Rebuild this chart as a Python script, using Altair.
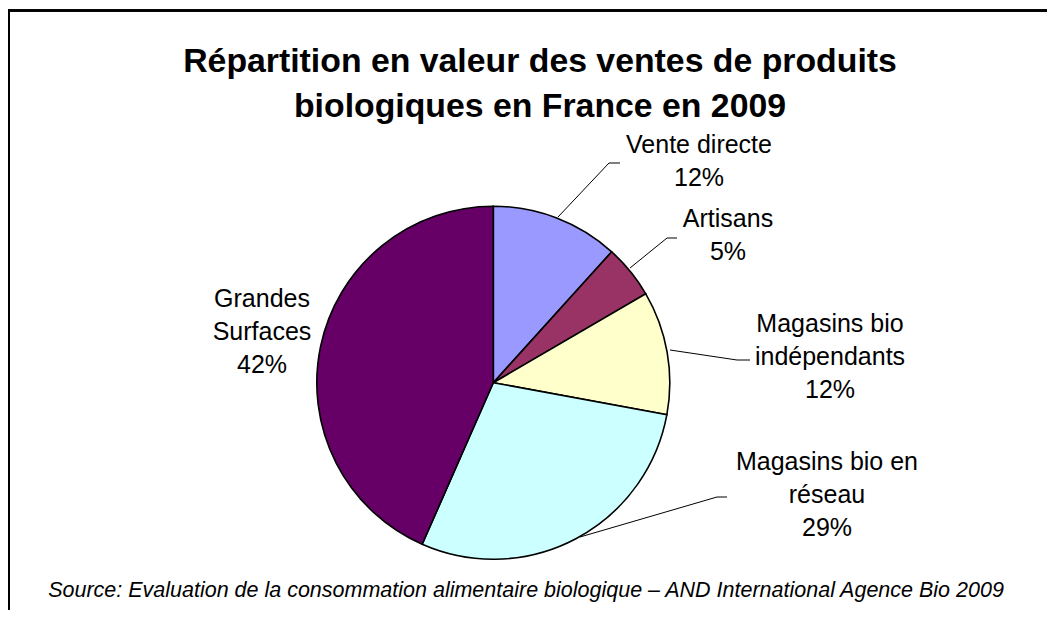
import altair as alt
import pandas as pd

# ---- data ----
categories = ["Vente directe", "Artisans", "Magasins bio indépendants",
              "Magasins bio en réseau", "Grandes Surfaces"]
values = [11.7, 4.9, 11.3, 28.7, 43.4]
pct_labels = ["12%", "5%", "12%", "29%", "42%"]
label_texts = ["Vente directe\n12%", "Artisans\n5%", "Magasins bio\nindépendants\n12%",
               "Magasins bio en\nréseau\n29%", "Grandes\nSurfaces\n42%"]
colors = ["#9999FF", "#993366", "#FFFFCC", "#CCFFFF", "#660066"]
title_lines = ["Répartition en valeur des ventes de produits",
               "biologiques en France en 2009"]
source_text = "Source: Evaluation de la consommation alimentaire biologique – AND International Agence Bio 2009"

# ---- layout (pixel positions inside the view) ----
W, H = 1039, 602
CX, CY, R = 485.3, 374.7, 176.5
label_x = [691, 720, 822, 819, 254]
label_y = [145, 219, 324, 462, 299]
leader_segments = [
    (550, 209, 601, 155), (601, 155, 612, 155),
    (622, 260, 659, 230), (659, 230, 669, 230),
    (662, 342, 729, 352), (729, 352, 742, 352),
    (572, 529, 709, 489), (709, 489, 719, 489),
]
FONT = "Liberation Sans"

pie_df = pd.DataFrame({"cat": categories, "value": values,
                       "order": list(range(len(categories)))})

pie = alt.Chart(pie_df).mark_arc(outerRadius=R, stroke="black", strokeWidth=1.6).encode(
    theta=alt.Theta("value:Q", stack=True),
    order=alt.Order("order:Q", sort="ascending"),
    color=alt.Color("cat:N", scale=alt.Scale(domain=categories, range=colors), legend=None),
    x=alt.value(CX), y=alt.value(CY),
)

lab_df = pd.DataFrame({"text": label_texts, "x": label_x, "y": label_y})
labels = alt.Chart(lab_df).mark_text(
    font=FONT, fontSize=25, align="center", baseline="alphabetic",
    lineBreak="\n", lineHeight=33, color="black"
).encode(
    x=alt.X("x:Q", scale=None), y=alt.Y("y:Q", scale=None), text="text:N"
)

seg_df = pd.DataFrame(leader_segments, columns=["x", "y", "x2", "y2"])
leaders = alt.Chart(seg_df).mark_rule(color="black", strokeWidth=1).encode(
    x=alt.X("x:Q", scale=None), y=alt.Y("y:Q", scale=None),
    x2="x2:Q", y2="y2:Q"
)

title_df = pd.DataFrame({"text": title_lines, "x": [532, 532], "y": [64, 109]})
title = alt.Chart(title_df).mark_text(
    font=FONT, fontSize=33.8, fontWeight="bold", align="center", baseline="alphabetic",
    color="black"
).encode(x=alt.X("x:Q", scale=None), y=alt.Y("y:Q", scale=None), text="text:N")

src_df = pd.DataFrame({"text": [source_text], "x": [518], "y": [589]})
source = alt.Chart(src_df).mark_text(
    font=FONT, fontSize=21.5, fontStyle="italic", align="center", baseline="alphabetic",
    color="black"
).encode(x=alt.X("x:Q", scale=None), y=alt.Y("y:Q", scale=None), text="text:N")

frame_top = alt.Chart(pie_df).mark_rule(color="black", strokeWidth=2).encode(
    x=alt.value(0), x2=alt.value(W), y=alt.value(2.5), y2=alt.value(2.5)
)
frame_left = alt.Chart(pie_df).mark_rule(color="black", strokeWidth=2).encode(
    x=alt.value(1), x2=alt.value(1), y=alt.value(1.5), y2=alt.value(H)
)

chart = alt.layer(frame_top, frame_left, pie, leaders, labels, title, source).properties(
    width=W, height=H, padding=0, autosize=alt.AutoSizeParams(type="none"),
    background="white"
).configure_view(stroke=None)

chart.save("out.html", embed_options={"renderer": "svg", "actions": False})
